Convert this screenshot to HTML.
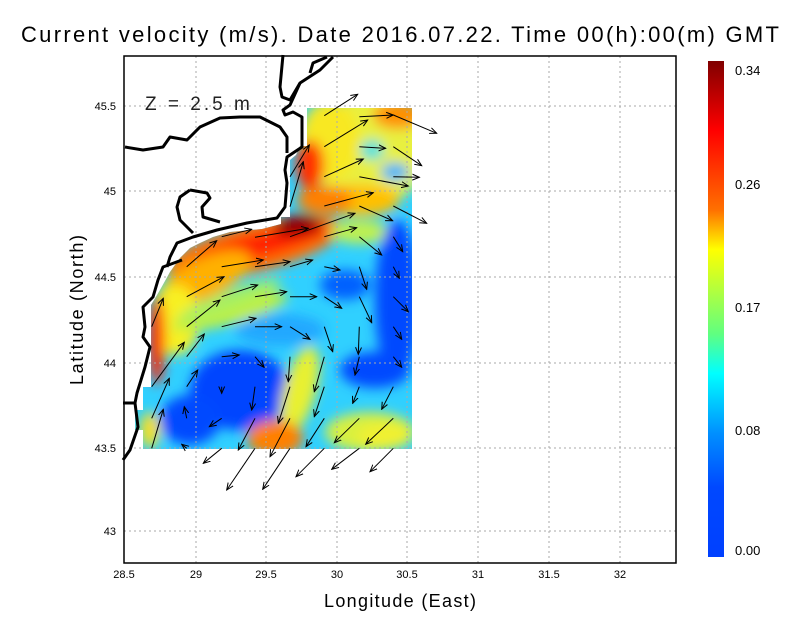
<!DOCTYPE html>
<html><head><meta charset="utf-8"><style>
body{margin:0;background:#fff;width:800px;height:618px;overflow:hidden;font-family:"Liberation Sans",sans-serif}
</style></head><body>
<svg width="800" height="618" xmlns="http://www.w3.org/2000/svg" font-family="Liberation Sans, sans-serif">
<defs>
<linearGradient id="cb" x1="0" y1="0" x2="0" y2="1">
<stop offset="0" stop-color="#800000"/><stop offset="0.14" stop-color="#ff0000"/>
<stop offset="0.3" stop-color="#ff7000"/><stop offset="0.38" stop-color="#ffff00"/>
<stop offset="0.55" stop-color="#60ff80"/><stop offset="0.63" stop-color="#00ffff"/>
<stop offset="0.75" stop-color="#0090ff"/><stop offset="0.86" stop-color="#0048ff"/>
<stop offset="1" stop-color="#0040ff"/></linearGradient>
<clipPath id="reg"><polygon points="307,108 412,108 412,449 143,449 143,430 135,430 135,410 143,410 143,387 151,387 151,305 160,290 170,272 180,258 190,248 200,243 213,237 230,232 262,229 281,224 281,217 290,217 290,160 296,155 300,146 307,146"/></clipPath>
<filter id="bl" x="-20%" y="-20%" width="140%" height="140%"><feGaussianBlur stdDeviation="6"/></filter>
<marker id="ah" markerWidth="8" markerHeight="8" refX="7" refY="4" orient="auto" markerUnits="userSpaceOnUse"><path d="M0,1 L7,4 L0,7" fill="none" stroke="#000" stroke-width="1"/></marker>
</defs>
<text x="400" y="42" font-size="22" text-anchor="middle" textLength="758" lengthAdjust="spacing">Current velocity (m/s). Date 2016.07.22. Time 00(h):00(m) GMT</text>
<g clip-path="url(#reg)">
<rect x="120" y="100" width="300" height="360" fill="#30d0ff"/>
<g filter="url(#bl)">
<ellipse cx="370" cy="150" rx="60" ry="55" fill="#e8f040"/>
<ellipse cx="330" cy="140" rx="30" ry="40" fill="#f8e820"/>
<ellipse cx="398" cy="115" rx="25" ry="14" fill="#ff9000"/>
<ellipse cx="395" cy="172" rx="14" ry="9" fill="#30b0ff"/>
<ellipse cx="372" cy="150" rx="12" ry="10" fill="#40e0e0"/>
<ellipse cx="310" cy="165" rx="14" ry="25" fill="#ff3000"/>
<ellipse cx="360" cy="200" rx="40" ry="16" fill="#ffc000"/>
<ellipse cx="325" cy="200" rx="28" ry="14" fill="#ff8000"/>
<ellipse cx="255" cy="248" rx="90" ry="24" fill="#ff7000" transform="rotate(-14 255 248)"/>
<ellipse cx="260" cy="245" rx="70" ry="12" fill="#ff2000" transform="rotate(-14 260 245)"/>
<ellipse cx="300" cy="225" rx="22" ry="10" fill="#a00000"/>
<ellipse cx="205" cy="278" rx="50" ry="20" fill="#ffb000" transform="rotate(-25 205 278)"/>
<ellipse cx="175" cy="320" rx="25" ry="35" fill="#f8f020"/>
<ellipse cx="157" cy="340" rx="8" ry="45" fill="#ff2000"/>
<ellipse cx="230" cy="312" rx="60" ry="12" fill="#c0f040" transform="rotate(-15 230 312)"/>
<ellipse cx="360" cy="232" rx="30" ry="12" fill="#c0f050"/>
<ellipse cx="397" cy="300" rx="22" ry="80" fill="#0048ff"/>
<ellipse cx="345" cy="285" rx="25" ry="15" fill="#0060ff"/>
<ellipse cx="375" cy="370" rx="35" ry="18" fill="#0048ff"/>
<ellipse cx="240" cy="390" rx="50" ry="40" fill="#0044ff"/>
<ellipse cx="190" cy="420" rx="30" ry="25" fill="#0048ff"/>
<ellipse cx="280" cy="330" rx="45" ry="16" fill="#20a8ff"/>
<ellipse cx="300" cy="390" rx="16" ry="45" fill="#e8f030" transform="rotate(15 300 390)"/>
<ellipse cx="275" cy="438" rx="28" ry="18" fill="#ff8000"/>
<ellipse cx="370" cy="432" rx="45" ry="20" fill="#d8f040"/>
<ellipse cx="150" cy="430" rx="10" ry="18" fill="#f8e020"/>
<ellipse cx="230" cy="300" rx="55" ry="9" fill="#a8f060" transform="rotate(-20 230 300)"/>
<ellipse cx="290" cy="228" rx="16" ry="8" fill="#900000"/>
<ellipse cx="385" cy="436" rx="28" ry="13" fill="#f0f030"/>
</g>
</g>
<g stroke="#aaa" stroke-width="1" stroke-dasharray="2,3">
<line x1="196" y1="56" x2="196" y2="563"/><line x1="266" y1="56" x2="266" y2="563"/><line x1="337" y1="56" x2="337" y2="563"/><line x1="407" y1="56" x2="407" y2="563"/><line x1="478" y1="56" x2="478" y2="563"/><line x1="549" y1="56" x2="549" y2="563"/><line x1="620" y1="56" x2="620" y2="563"/>
<line x1="124" y1="106" x2="676" y2="106"/><line x1="124" y1="191" x2="676" y2="191"/><line x1="124" y1="277" x2="676" y2="277"/><line x1="124" y1="363" x2="676" y2="363"/><line x1="124" y1="448" x2="676" y2="448"/><line x1="124" y1="531" x2="676" y2="531"/>
</g>
<g fill="none" stroke="#000" stroke-width="3" stroke-linejoin="round">
<polyline points="283,55 280,87 282,97 290,100 300,83 320,70 333,57"/>
<polyline points="310,73 313,63 327,57"/>
<polyline points="300,83 290,105 283,110 285,115 293,112 302,117 302,147 287,157 285,170 287,183 285,207 277,218 247,223 217,230 193,237 177,243 170,257 167,267"/>
<polyline points="125,147 143,150 163,147 170,137 187,140 200,127 220,118 240,117 260,117 280,127 287,137 287,153"/>
<polyline points="190,190 180,197 177,207 180,220 193,233"/>
<polyline points="190,190 207,193 210,198 202,207 203,217 220,222"/>
<polyline points="182,260 163,267 158,280 153,297 143,307 145,327 143,337 150,347 145,367 137,393 135,403 138,427 130,450 123,460"/>
<polyline points="123,403 135,403"/>
</g>
<text x="145" y="110" font-size="19" fill="#222" letter-spacing="3">Z = 2.5 m</text>
<g stroke="#000" stroke-width="1" marker-end="url(#ah)">
<line x1="221.7" y1="266.7" x2="263.3" y2="260"/><line x1="255" y1="266.7" x2="290" y2="261.7"/><line x1="290" y1="266.7" x2="312.7" y2="260"/><line x1="324.3" y1="266.7" x2="340" y2="270"/><line x1="359.3" y1="266.7" x2="366.7" y2="289.3"/><line x1="393.3" y1="266.7" x2="399.3" y2="278.3"/>
<line x1="186.7" y1="296.7" x2="224" y2="276.7"/><line x1="221.7" y1="296.7" x2="257.7" y2="285"/><line x1="255" y1="296.7" x2="286.7" y2="291.7"/><line x1="290" y1="296.7" x2="316.7" y2="296.7"/><line x1="324.3" y1="296.7" x2="341.7" y2="308.3"/><line x1="359.3" y1="296.7" x2="371.7" y2="322.7"/><line x1="393.3" y1="296.7" x2="408.3" y2="311.7"/>
<line x1="186.7" y1="326.7" x2="220" y2="300"/><line x1="221.7" y1="326.7" x2="256" y2="318.3"/><line x1="255" y1="326.7" x2="281.7" y2="326.7"/><line x1="290" y1="326.7" x2="310" y2="339.3"/><line x1="324.3" y1="326.7" x2="332.7" y2="351.7"/><line x1="359.3" y1="326.7" x2="358.3" y2="354.3"/><line x1="393.3" y1="326.7" x2="401.7" y2="339.3"/><line x1="151.7" y1="326.7" x2="163.3" y2="298.3"/>
<line x1="186.7" y1="356.7" x2="204.3" y2="334"/><line x1="221.7" y1="356.7" x2="239.3" y2="355"/><line x1="255" y1="356.7" x2="264" y2="367.3"/><line x1="290" y1="356.7" x2="288.3" y2="381.7"/><line x1="324.3" y1="356.7" x2="314.3" y2="391.7"/><line x1="359.3" y1="356.7" x2="355" y2="375"/><line x1="393.3" y1="356.7" x2="401.7" y2="367.3"/><line x1="151.7" y1="386.7" x2="184.3" y2="342.3"/>
<line x1="186.7" y1="386.7" x2="197.7" y2="370"/><line x1="221.7" y1="386.7" x2="221.7" y2="393.3"/><line x1="255" y1="386.7" x2="251.7" y2="410"/><line x1="290" y1="386.7" x2="278.3" y2="423.3"/><line x1="324.3" y1="386.7" x2="314.3" y2="416.7"/><line x1="359.3" y1="386.7" x2="352.7" y2="403.3"/><line x1="393.3" y1="386.7" x2="381.7" y2="409.3"/><line x1="151.7" y1="418.3" x2="169.3" y2="378.3"/>
<line x1="186.7" y1="418.3" x2="184.3" y2="406.7"/><line x1="221.7" y1="418.3" x2="209.3" y2="426.7"/><line x1="255" y1="418.3" x2="238.3" y2="450"/><line x1="290" y1="418.3" x2="270" y2="456.7"/><line x1="324.3" y1="418.3" x2="306" y2="446.7"/><line x1="359.3" y1="418.3" x2="334.3" y2="442.7"/><line x1="393.3" y1="418.3" x2="365.7" y2="444.3"/><line x1="151.7" y1="448.3" x2="163.3" y2="409.3"/>
<line x1="186.7" y1="448.3" x2="181.7" y2="444.3"/><line x1="221.7" y1="448.3" x2="203.3" y2="463.3"/><line x1="255" y1="448.3" x2="226.7" y2="490"/><line x1="290" y1="448.3" x2="262.7" y2="489.3"/><line x1="324.3" y1="448.3" x2="296" y2="476.7"/><line x1="359.3" y1="448.3" x2="331.7" y2="469.3"/><line x1="393.3" y1="448.3" x2="370" y2="471.7"/>
<line x1="324.3" y1="115.7" x2="357.7" y2="94.3"/><line x1="359.3" y1="116.7" x2="393.3" y2="115"/><line x1="393.3" y1="115" x2="436.7" y2="133.3"/>
<line x1="324.3" y1="146.7" x2="367.7" y2="120"/><line x1="359.3" y1="146.7" x2="385.7" y2="148.3"/><line x1="393.3" y1="146.7" x2="421.7" y2="165.7"/>
<line x1="324.3" y1="176.7" x2="363.3" y2="159"/><line x1="359.3" y1="176.7" x2="408.3" y2="186"/><line x1="393.3" y1="176.7" x2="419.3" y2="177.3"/>
<line x1="324.3" y1="206" x2="373.3" y2="192.7"/><line x1="359.3" y1="206" x2="392.7" y2="220.7"/><line x1="393.3" y1="206" x2="426.7" y2="223.3"/>
<line x1="290" y1="206.7" x2="303.3" y2="161.7"/><line x1="290" y1="176.7" x2="309.3" y2="145"/>
<line x1="290" y1="236.7" x2="355" y2="213.3"/><line x1="324.3" y1="236.7" x2="356.7" y2="227.7"/><line x1="359.3" y1="236.7" x2="381.7" y2="255"/><line x1="393.3" y1="236.7" x2="402.7" y2="251.7"/>
<line x1="255" y1="237.3" x2="308.3" y2="228.3"/><line x1="221.7" y1="236.7" x2="251.7" y2="229.3"/><line x1="186.7" y1="266.7" x2="216.7" y2="240.7"/>
</g>
<rect x="124" y="56" width="552" height="507" fill="none" stroke="#000" stroke-width="1.5"/>
<g font-size="11" text-anchor="middle">
<text x="124" y="578">28.5</text><text x="196" y="578">29</text><text x="266" y="578">29.5</text><text x="337" y="578">30</text><text x="407" y="578">30.5</text><text x="478" y="578">31</text><text x="549" y="578">31.5</text><text x="620" y="578">32</text>
</g>
<g font-size="11" text-anchor="end">
<text x="116" y="110">45.5</text><text x="116" y="195">45</text><text x="116" y="281">44.5</text><text x="116" y="367">44</text><text x="116" y="452">43.5</text><text x="116" y="535">43</text>
</g>
<text x="400" y="607" font-size="18" text-anchor="middle" textLength="152" lengthAdjust="spacing">Longitude (East)</text>
<text transform="translate(83 310) rotate(-90)" font-size="18" text-anchor="middle" textLength="150" lengthAdjust="spacing">Latitude (North)</text>
<rect x="708" y="61" width="16" height="496" fill="url(#cb)"/>
<g font-size="13">
<text x="735" y="75">0.34</text><text x="735" y="189">0.26</text><text x="735" y="312">0.17</text><text x="735" y="435">0.08</text><text x="735" y="555">0.00</text>
</g>
</svg>
</body></html>
